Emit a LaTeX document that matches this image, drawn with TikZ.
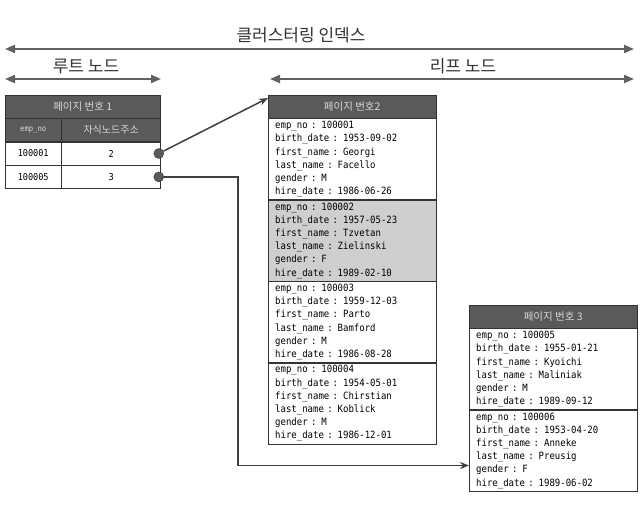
\documentclass[tikz,border=0pt]{standalone}
\usepackage{fontspec}
\usepackage{xcolor}
\usepackage{tikz}
\usetikzlibrary{positioning,arrows.meta}
\newfontfamily\krfont{Noto Sans CJK KR}
\newfontfamily\recfont[FakeStretch=0.9]{DejaVu Sans Mono}
\definecolor{barfill}{HTML}{5A5A5A}
\definecolor{bartext}{HTML}{D8D8D8}
\definecolor{lineink}{HTML}{333333}
\definecolor{shade}{HTML}{CFCFCF}
\tikzset{
    headbar/.style={draw=lineink, fill=barfill, text=bartext, inner sep=0pt,
        minimum height=23pt, anchor=north west, font=\krfont\fontsize{10.5}{12}\selectfont},
    subcell/.style={headbar, font=\krfont\fontsize{10}{11}\selectfont},
    cell/.style={draw=lineink, fill=white, inner sep=0pt, minimum height=23pt,
        anchor=north west, font=\recfont\fontsize{9.5}{11}\selectfont},
    recbox/.style={draw=lineink, fill=white, text width=154pt, inner xsep=7pt, inner ysep=2pt,
        minimum height=81pt, align=left, font=\recfont\fontsize{10}{13.2}\selectfont},
    recshade/.style={recbox, fill=shade},
    ptrdot/.style={circle, fill=barfill, draw=lineink, inner sep=0pt, minimum size=10pt},
    spanarrow/.style={{Triangle[length=10pt,width=8pt]}-{Triangle[length=10pt,width=8pt]},
        line width=2pt, draw=black!62},
    spanlabel/.style={text=black!80, font=\krfont\fontsize{17}{19}\selectfont},
    link/.style={-{Stealth[length=9pt,width=7pt]}, line width=1.5pt, draw=black!75},
}
\begin{document}
\begin{tikzpicture}[x=1pt,y=-1pt]
    \useasboundingbox[fill=white] (0,0) rectangle (643,510);

    \coordinate (allL) at (5,49);
    \coordinate (allR) at (634,49);
    \coordinate (rootL) at (5,79);
    \coordinate (rootR) at (161,79);
    \coordinate (leafL) at (270,79);
    \coordinate (leafR) at (634,79);
    \coordinate (turn) at (238,0);

    \node[spanlabel] (allT) at (301,35) {클러스터링 인덱스};
    \node[spanlabel] (rootT) at (86,66) {루트 노드};
    \node[spanlabel] (leafT) at (463,66) {리프 노드};
    \draw[spanarrow] (allL) -- (allR);
    \draw[spanarrow] (rootL) -- (rootR);
    \draw[spanarrow] (leafL) -- (leafR);

    \node[headbar, minimum width=155pt] (rhead) at (5,95) {페이지 번호 1};
    \node[subcell, minimum width=56pt, below=0pt of rhead.south west, anchor=north west] (rkey) {\recfont\fontsize{8}{10}\selectfont emp\_no};
    \node[subcell, minimum width=99pt, right=0pt of rkey] (rptr) {자식노드주소};
    \node[cell, minimum width=56pt, below=0pt of rkey] (k1) {100001};
    \node[cell, minimum width=99pt, right=0pt of k1] (c1) {2};
    \node[cell, minimum width=56pt, below=0pt of k1] (k2) {100005};
    \node[cell, minimum width=99pt, right=0pt of k2] (c2) {3};
    \node[ptrdot] (d1) at ([xshift=-2pt]c1.east) {};
    \node[ptrdot] (d2) at ([xshift=-2pt]c2.east) {};

    \node[headbar, minimum width=168pt] (leafA) at (268,95) {페이지 번호2};
    \node[recbox, below=0pt of leafA] (recA1) {emp\_no : 100001\\ birth\_date : 1953-09-02\\ first\_name : Georgi\\ last\_name : Facello\\ gender : M\\ hire\_date : 1986-06-26};
    \node[recshade, below=0pt of recA1] (recA2) {emp\_no : 100002\\ birth\_date : 1957-05-23\\ first\_name : Tzvetan\\ last\_name : Zielinski\\ gender : F\\ hire\_date : 1989-02-10};
    \node[recbox, below=0pt of recA2] (recA3) {emp\_no : 100003\\ birth\_date : 1959-12-03\\ first\_name : Parto\\ last\_name : Bamford\\ gender : M\\ hire\_date : 1986-08-28};
    \node[recbox, below=0pt of recA3] (recA4) {emp\_no : 100004\\ birth\_date : 1954-05-01\\ first\_name : Chirstian\\ last\_name : Koblick\\ gender : M\\ hire\_date : 1986-12-01};

    \node[headbar, minimum width=168pt] (leafB) at (469,305) {페이지 번호 3};
    \node[recbox, below=0pt of leafB] (recB1) {emp\_no : 100005\\ birth\_date : 1955-01-21\\ first\_name : Kyoichi\\ last\_name : Maliniak\\ gender : M\\ hire\_date : 1989-09-12};
    \node[recbox, below=0pt of recB1] (recB2) {emp\_no : 100006\\ birth\_date : 1953-04-20\\ first\_name : Anneke\\ last\_name : Preusig\\ gender : F\\ hire\_date : 1989-06-02};

    \draw[link] (d1) -- ([yshift=-3pt]leafA.north west);
    \draw[link] (d2) -- (d2 -| turn) |- ([yshift=-15pt]recB2.west);
\end{tikzpicture}
\end{document}
